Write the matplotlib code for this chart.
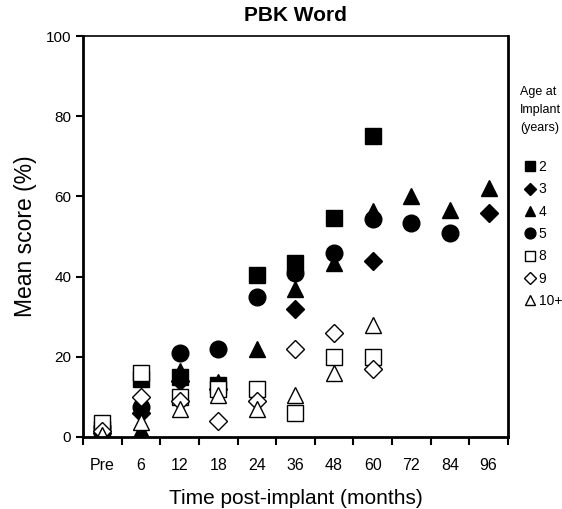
import matplotlib.pyplot as plt
import numpy as np

plt.rcParams['font.family'] = ['Liberation Sans', 'DejaVu Sans']

# time points (categorical)
times = ["Pre", "6", "12", "18", "24", "36", "48", "60", "72", "84", "96"]

# mean score (%) by age at implant; None = no data
age2 = [2, 14.5, 15, 13, 40.5, 43.5, 54.6, 75, None, None, None]
age3 = [1, 6, 14, 12, None, 32, None, 44, None, None, 56]
age4 = [0, 1.7, 16.5, 13.7, 22, 37, 43.5, 56.5, 60, 56.6, 62]
age5 = [2.5, 7.5, 21, 22, 35, 41, 46, 54.5, 53.4, 51, None]
age8 = [3.5, 16, 10, 12, 12, 6, 20, 20, None, None, None]
age9 = [1.5, 10, 9, 4, 9, 22, 26, 17, None, None, None]
age10 = [0.5, 3.7, 7, 10.5, 7, 10.5, 16, 28, None, None, None]

series = [
    ("2", age2, 's', 'black', 11),
    ("3", age3, 'D', 'black', 9),
    ("4", age4, '^', 'black', 12),
    ("5", age5, 'o', 'black', 12),
    ("8", age8, 's', 'white', 11),
    ("9", age9, 'D', 'white', 9),
    ("10+", age10, '^', 'white', 12),
]

fig = plt.figure(figsize=(5.62, 5.09), dpi=100)
ax = fig.add_axes([0.1477, 0.1415, 0.756, 0.7875])

x = np.arange(len(times))
for label, vals, mk, fc, ms in series:
    xs = [xi for xi, v in zip(x, vals) if v is not None]
    ys = [v for v in vals if v is not None]
    ax.plot(xs, ys, linestyle='none', marker=mk, markersize=ms,
            markerfacecolor=fc, markeredgecolor='black', markeredgewidth=1.0,
            label=label)

ax.set_xlim(-0.5, len(times) - 0.5)
ax.set_ylim(0, 100)
ax.set_yticks([0, 20, 40, 60, 80, 100])
ax.set_xticks(x)
ax.set_xticklabels(times)
ax.set_xticks(np.arange(-0.5, len(times)), minor=True)
ax.tick_params(axis='x', which='major', length=0, pad=15, labelsize=11.5)
ax.tick_params(axis='x', which='minor', length=6, width=1.5, direction='out')
ax.tick_params(axis='y', length=5, width=1.5, labelsize=11)

for side in ['left', 'bottom', 'right']:
    ax.spines[side].set_linewidth(2)
ax.spines['top'].set_linewidth(1.2)

ax.set_title("PBK Word", fontsize=15, fontweight='bold', pad=11)
ax.set_xlabel("Time post-implant (months)", fontsize=15, labelpad=12)
ax.set_ylabel("Mean score (%)", fontsize=16.5, labelpad=6)

leg = ax.legend(loc='upper left', bbox_to_anchor=(1.02, 0.715), frameon=False,
                fontsize=10, markerscale=0.65, handlelength=0.6,
                handletextpad=0.3, labelspacing=0.6, borderaxespad=0.3)

fig.text(0.925, 1 - 86 / 509, "Age at\nImplant\n(years)", fontsize=9,
         ha='left', va='top', linespacing=1.65)

fig.savefig("out.png", dpi=100)
